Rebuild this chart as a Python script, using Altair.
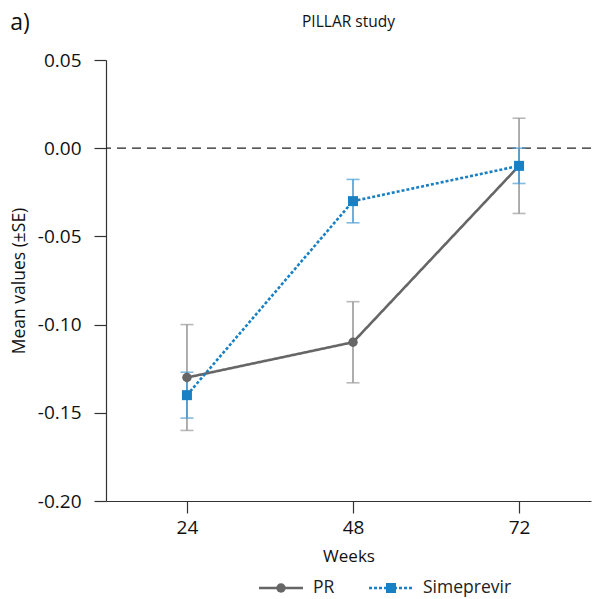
import altair as alt
import pandas as pd

weeks = [24, 48, 72]
series_names = ["PR", "Simeprevir"]
pr_mean = [-0.13, -0.11, -0.01]
pr_se = [0.030, 0.023, 0.027]
sim_mean = [-0.14, -0.03, -0.01]
sim_se = [0.013, 0.0123, 0.010]
y_ticks = [-0.20, -0.15, -0.10, -0.05, 0.00, 0.05]

rows = []
for s, means, ses in [("PR", pr_mean, pr_se), ("Simeprevir", sim_mean, sim_se)]:
    for w, m, e in zip(weeks, means, ses):
        rows.append({"series": s, "week": w, "mean": m, "lo": m - e, "hi": m + e})
df = pd.DataFrame(rows)

FONT = "Open Sans"
line_col = {"PR": "#666666", "Simeprevir": "#1a80c4"}
err_col = {"PR": "#9a9a9a", "Simeprevir": "#4b9bd2"}
dash = {"PR": [1, 0], "Simeprevir": [3, 2]}
shape = {"PR": "circle", "Simeprevir": "square"}
msize = {"PR": 90, "Simeprevir": 100}

x_scale = alt.Scale(domain=[12.3, 82.4], nice=False, zero=False)
y_scale = alt.Scale(domain=[-0.20, 0.05], nice=False, zero=False)

x_axis = alt.Axis(values=weeks, title="Weeks", grid=False, tickSize=12,
                  labelPadding=5, titlePadding=11, labelFontSize=19,
                  titleFontSize=17, titleFontWeight="normal")
y_axis = alt.Axis(values=y_ticks, title="Mean values (±SE)", grid=False, tickSize=12,
                  labelPadding=13, titlePadding=9, labelFontSize=19,
                  titleFontSize=17.5, titleFontWeight="normal",
                  labelExpr="(datum.value < -0.0001 ? '-' : '') + format(abs(datum.value), '.2f')")


def X(field):
    return alt.X(field, type="quantitative", scale=x_scale, axis=x_axis)


def Y(field):
    return alt.Y(field, type="quantitative", scale=y_scale, axis=y_axis)


base = alt.Chart(df)

zero_line = alt.Chart(pd.DataFrame({"zero": [0.0]})).mark_rule(
    color="#222222", strokeWidth=1.3, strokeDash=[9, 6]
).encode(y=Y("zero"))

layers = [zero_line]
for s in series_names:
    sub = base.transform_filter(alt.datum.series == s)
    layers.append(
        sub.mark_errorbar(ticks={"size": 13}, color=err_col[s], thickness=1.6).encode(
            x=X("week"), y=Y("lo"), y2="hi"
        )
    )
for s in series_names:
    sub = base.transform_filter(alt.datum.series == s)
    layers.append(
        sub.mark_line(color=line_col[s], strokeWidth=2.6, strokeDash=dash[s]).encode(
            x=X("week"), y=Y("mean")
        )
    )
for s in series_names:
    sub = base.transform_filter(alt.datum.series == s)
    layers.append(
        sub.mark_point(shape=shape[s], filled=True, opacity=1, size=msize[s],
                       color=line_col[s]).encode(x=X("week"), y=Y("mean"))
    )

main = alt.layer(*layers).properties(
    width=485, height=441,
    title=alt.TitleParams("PILLAR study", fontSize=15.5, fontWeight="normal",
                          font=FONT, frame="group", anchor="middle", offset=21),
)

# legend built from the series names
leg_df = pd.DataFrame({"series": series_names})
leg_x = alt.X("series:N", scale=alt.Scale(type="point", domain=series_names, range=[175, 285], padding=0), axis=None)
col_enc = alt.Color("series:N", scale=alt.Scale(domain=series_names, range=[line_col[s] for s in series_names]), legend=None)
dash_enc = alt.StrokeDash("series:N", scale=alt.Scale(domain=series_names, range=[dash[s] for s in series_names]), legend=None)
shape_enc = alt.Shape("series:N", scale=alt.Scale(domain=series_names, range=[shape[s] for s in series_names]), legend=None)
size_enc = alt.Size("series:N", scale=alt.Scale(domain=series_names, range=[msize[s] for s in series_names]), legend=None)

leg_base = alt.Chart(leg_df).encode(x=leg_x, y=alt.value(6))
leg_rule = leg_base.mark_rule(strokeWidth=2.6, xOffset=-22, x2Offset=22).encode(
    x2="series:N", color=col_enc, strokeDash=dash_enc)
leg_pt = leg_base.mark_point(filled=True, opacity=1).encode(color=col_enc, shape=shape_enc, size=size_enc)
leg_txt = leg_base.mark_text(align="left", baseline="middle", dx=32, fontSize=17.5, font=FONT,
                             color="#222222").encode(text="series:N")
legend = alt.layer(leg_rule, leg_pt, leg_txt).properties(width=485, height=12)

chart = alt.vconcat(main, legend, spacing=15).properties(
    padding={"left": 2, "top": 3, "right": 0, "bottom": 0},
    title=alt.TitleParams("a)", anchor="start", fontSize=23, fontWeight="normal",
                          font=FONT, dy=24, frame="bounds"),
).configure_view(stroke=None).configure_axis(
    domainColor="#333333", tickColor="#333333", labelColor="#111111", titleColor="#111111",
    labelFont=FONT, titleFont=FONT, domainWidth=1.2, tickWidth=1.2
).configure_title(color="#111111")

chart.save("out.html", embed_options={"renderer": "svg", "actions": False})
